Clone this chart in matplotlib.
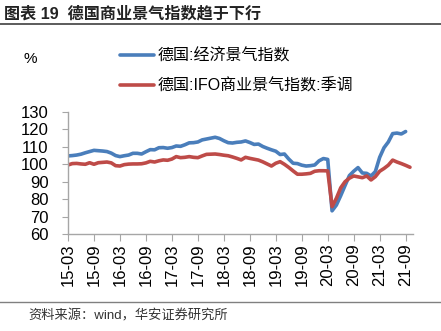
import matplotlib
matplotlib.use("Agg")
import matplotlib.pyplot as plt
from matplotlib.lines import Line2D

plt.rcParams['font.family'] = ['Liberation Sans', 'Noto Sans CJK SC', 'DejaVu Sans']

# months 2015-03 .. 2021-10
months = []
y, m = 2015, 3
for _ in range(80):
    months.append("%02d-%02d" % (y % 100, m))
    m += 1
    if m > 12:
        m = 1
        y += 1

# 德国:经济景气指数 (ends 2021-09)
econ = [104.8, 105.0, 105.3, 105.8, 106.6, 107.3, 108.0, 107.8, 107.6, 107.3,
        106.4, 105.0, 104.4, 104.9, 105.3, 106.3, 106.3, 105.9, 107.2, 108.4,
        108.3, 109.5, 109.6, 109.2, 109.6, 110.5, 110.3, 111.2, 112.3, 112.4,
        112.8, 114.0, 114.5, 115.0, 115.5, 114.8, 113.5, 112.4, 112.2, 112.6,
        112.8, 113.4, 112.5, 111.4, 111.6, 110.2, 109.2, 108.3, 107.5, 105.6,
        105.9, 103.0, 100.6, 100.4, 99.5, 99.0, 99.2, 99.6, 102.0, 103.3,
        102.8, 73.3, 76.6, 82.0, 87.8, 93.5, 96.0, 98.1, 95.0, 94.8,
        93.3, 95.8, 104.0, 109.5, 112.8, 117.6, 117.9, 117.4, 118.8]

# 德国:IFO商业景气指数:季调 (ends 2021-10)
ifo = [99.6, 100.4, 100.5, 100.2, 100.0, 100.9, 100.0, 100.9, 101.1, 101.3,
       100.8, 99.2, 99.0, 99.8, 100.1, 100.2, 100.2, 100.3, 100.8, 101.7,
       101.3, 102.0, 102.5, 102.3, 103.0, 104.4, 103.8, 104.0, 104.4, 104.0,
       103.8, 104.8, 105.7, 105.8, 105.9, 105.6, 105.2, 104.9, 104.2, 103.4,
       102.5, 104.0, 103.4, 102.9, 102.4, 101.4, 100.2, 99.0, 100.6, 101.5,
       100.0, 98.2, 96.2, 94.3, 94.3, 94.5, 94.8, 96.0, 96.3, 96.3,
       96.2, 75.7, 80.5, 86.5, 90.0, 92.0, 93.3, 92.8, 92.3, 93.3,
       91.0, 92.9, 96.0, 97.6, 99.5, 102.4, 101.3, 100.4, 99.4, 98.3]

yticks = [60, 70, 80, 90, 100, 110, 120, 130]

blue = '#4a7ebb'
red = '#be4b48'
grey = '#a6a6a6'

fig = plt.figure(figsize=(4.41, 3.31), dpi=100)
ax = fig.add_axes([68 / 441, 1 - 234 / 331, (413 - 68) / 441, (234 - 112) / 331])

l1, = ax.plot(range(len(econ)), econ, color=blue, lw=2.6,
              solid_capstyle='round', solid_joinstyle='round')
l2, = ax.plot(range(len(ifo)), ifo, color=red, lw=2.6,
              solid_capstyle='round', solid_joinstyle='round')

ax.set_ylim(60, 130)
ax.set_yticks(yticks)
ax.set_xlim(0, 79.7)
ax.set_xticks(range(0, 80, 6))
ax.set_xticklabels([months[i] for i in range(0, 80, 6)], rotation=90)

for s in ['top', 'right']:
    ax.spines[s].set_visible(False)
for s in ['left', 'bottom']:
    ax.spines[s].set_color(grey)
    ax.spines[s].set_linewidth(1.0)
ax.tick_params(axis='y', length=4, color=grey, labelsize=12, pad=10)
ax.tick_params(axis='x', length=5, color=grey, labelsize=12, pad=2)

# title and frame lines
fig.text(4 / 441, 1 - 14 / 331, "图表 19  德国商业景气指数趋于下行", fontsize=11.6,
         fontweight='bold', va='center', ha='left', color='#222222')
fig.add_artist(Line2D([0, 1], [1 - 24 / 331, 1 - 24 / 331], color='#404040', lw=1.2))
fig.add_artist(Line2D([0, 1], [1 - 302 / 331, 1 - 302 / 331], color='#808080', lw=1.0))
fig.text(28 / 441, 1 - 316 / 331, "资料来源：wind，华安证券研究所", fontsize=9.5,
         va='center', ha='left', color='#333333')

fig.text(23 / 441, 1 - 59 / 331, "%", fontsize=11, va='center', ha='left')

fig.legend([l1, l2], ["德国:经济景气指数", "德国:IFO商业景气指数:季调"],
           loc='upper left', bbox_to_anchor=(120 / 441, 1 - 48 / 331),
           frameon=False, fontsize=11.5, handlelength=2.1, handletextpad=0.25,
           labelspacing=0.95, borderaxespad=0, borderpad=0)

fig.savefig("out.png", dpi=100)
